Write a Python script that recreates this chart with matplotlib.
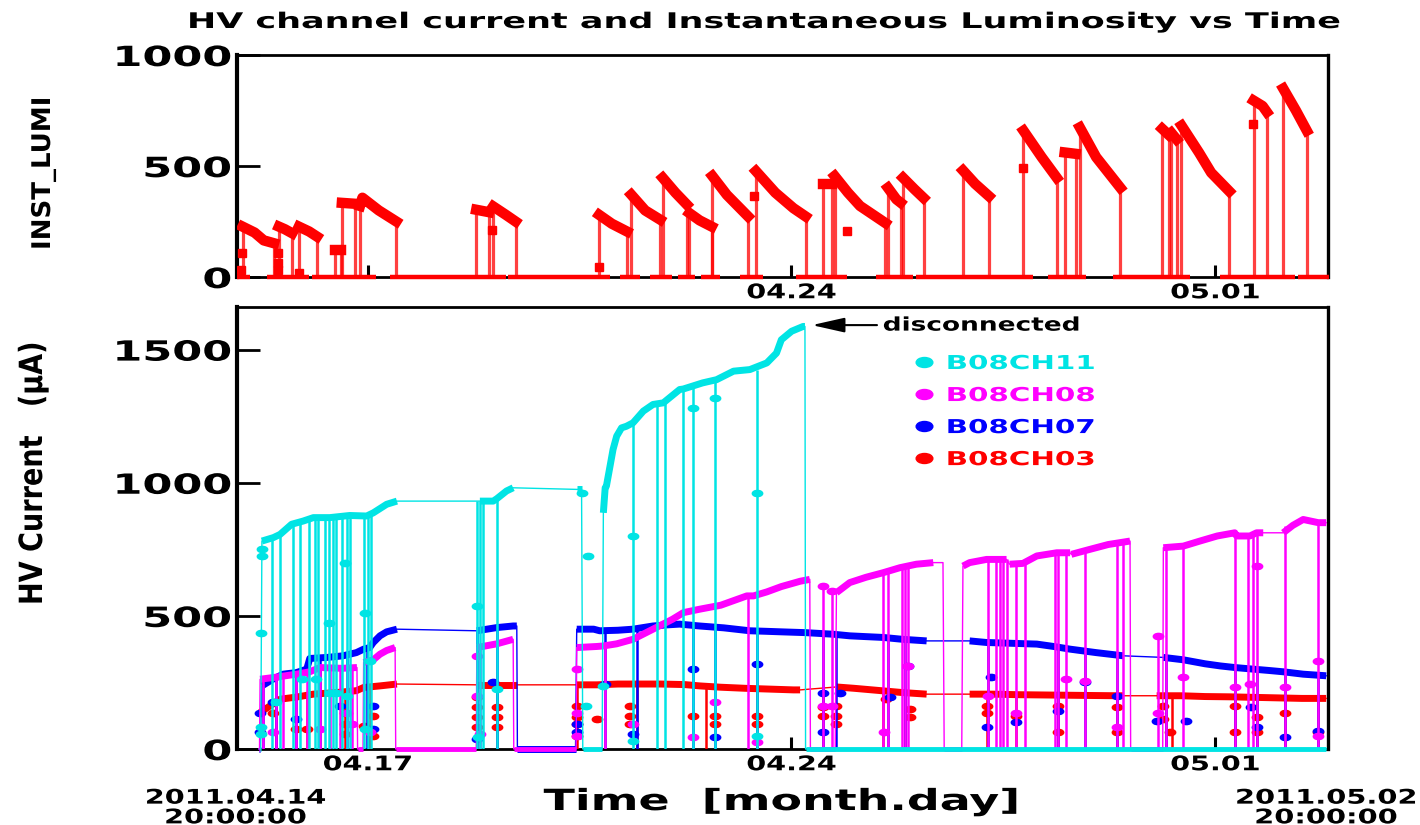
import numpy as np
import matplotlib
matplotlib.use("Agg")
import matplotlib.pyplot as plt
from matplotlib import patheffects
from matplotlib.path import Path
from matplotlib.transforms import Affine2D
from matplotlib.lines import Line2D

# ----------------------------------------------------------------- data
# time axis: days since 2011-04-14 20:00:00
T_END = 18.03
tick_days = [2.1667, 9.1667, 16.1667]
tick_labels_bottom = ["04.17", "04.24", "05.01"]
tick_labels_top = ["", "04.24", "05.01"]
lumi_yticks = [0, 500, 1000]
hv_yticks = [0, 500, 1000, 1500]
start_label = "2011.04.14\n20:00:00"
end_label = "2011.05.02\n20:00:00"
title = "HV channel current and Instantaneous Luminosity vs Time"
channel_names = ["B08CH11", "B08CH08", "B08CH07", "B08CH03"]

# ---- instantaneous luminosity: one list per beam fill (decay curve)
lumi_fill_t = [
    [0.10, 0.30, 0.45, 0.62], [0.70, 0.80, 0.92], [1.03, 1.20, 1.33],
    [1.63, 1.72], [1.74, 1.95], [2.04, 2.08, 2.35, 2.64], [3.96, 4.17],
    [4.24, 4.45, 4.61], [5.99, 6.20, 6.45], [6.52, 6.75, 7.00],
    [7.04, 7.25, 7.44], [7.48, 7.65, 7.85], [7.86, 8.10, 8.45],
    [8.58, 8.90, 9.20, 9.40], [9.69, 9.84], [9.88, 10.10, 10.30, 10.72],
    [10.76, 10.90, 10.97], [11.01, 11.20, 11.35], [12.00, 12.20, 12.43],
    [13.00, 13.30, 13.55], [13.68, 13.86], [13.93, 14.20, 14.60],
    [15.29, 15.40], [15.44, 15.53], [15.61, 15.90, 16.10, 16.40],
    [16.80, 16.95, 17.02], [17.29, 17.50, 17.68],
]
lumi_fill_v = [
    [227, 200, 165, 152], [227, 215, 197], [227, 205, 182],
    [121, 121], [334, 330], [320, 357, 300, 250], [303, 292],
    [318, 280, 250], [280, 240, 205], [371, 300, 258],
    [447, 380, 326], [288, 255, 227], [455, 370, 273],
    [477, 380, 310, 273], [421, 421], [455, 380, 320, 243],
    [402, 350, 335], [447, 395, 356], [480, 420, 364],
    [659, 540, 447], [561, 555], [674, 540, 402],
    [668, 640], [650, 620], [682, 560, 470, 386],
    [795, 770, 743], [849, 750, 659],
]
lumi_zero_start = [0.00, 0.50, 1.24, 2.53, 4.49, 6.33, 6.83, 7.30, 7.68, 8.31,
                   9.25, 10.57, 11.23, 13.41, 14.48, 16.24, 17.54]
lumi_zero_end = [0.22, 1.19, 2.31, 4.46, 6.17, 6.66, 7.19, 7.57, 7.99, 8.70,
                 10.08, 11.18, 13.16, 14.04, 15.75, 17.48, 18.05]
lumi_ramp_t = [0.08, 0.09, 0.69, 0.69, 0.69, 1.04, 4.22, 5.98, 8.55, 10.08, 12.99, 16.79]
lumi_ramp_v = [30, 107, 107, 62, 30, 20, 212, 45, 364, 205, 493, 690]

# ---- B08CH11 (cyan)
ch11_runs_t = [
    [0.39, 0.40],
    [0.42, 0.61, 0.72, 0.91, 1.10, 1.27, 1.54, 1.87, 2.15, 2.26, 2.48, 2.65],
    [4.02, 4.24, 4.30, 4.46, 4.57],
    [5.62, 5.70],
    [5.72, 6.04],
    [6.06, 6.09, 6.11, 6.17, 6.22, 6.28, 6.36, 6.44, 6.55, 6.72, 6.88, 7.05, 7.32, 7.38,
     7.52, 7.70, 7.93, 8.21, 8.48, 8.76, 8.92, 9.00, 9.17, 9.36, 9.39],
    [9.40, 18.00],
]
ch11_runs_v = [
    [0, 0],
    [781, 794, 806, 844, 856, 869, 869, 877, 875, 887, 919, 931],
    [931, 931, 940, 969, 981],
    [975, 975],
    [0, 0],
    [887, 981, 987, 1062, 1125, 1175, 1206, 1212, 1225, 1269, 1294, 1300, 1350, 1352,
     1362, 1375, 1387, 1419, 1425, 1450, 1487, 1537, 1569, 1587, 1587],
    [0, 0],
]
ch11_trip_t = [0.58, 0.72, 0.94, 1.05, 1.19, 1.30, 1.35, 1.46, 1.52, 1.60, 1.65, 1.74, 1.82,
               1.87, 2.10, 2.18, 2.23, 3.97, 4.02, 4.08, 4.30, 6.55, 6.94, 7.08, 7.38, 7.54,
               7.90, 8.59]
ch11_trip_v = [794, 806, 846, 850, 862, 869, 869, 869, 869, 869, 870, 875, 877,
               877, 875, 876, 882, 931, 931, 931, 940, 1225, 1294, 1302, 1352, 1362,
               1387, 1425]
ch11_mid_t = [0.40, 0.40, 0.41, 0.42, 0.42, 0.66, 1.08, 1.32, 1.52, 1.55, 1.65, 1.79, 1.82,
              2.12, 2.12, 2.20, 3.97, 3.99, 4.30, 5.70, 5.81, 5.78, 6.06, 6.55, 6.55, 7.54,
              7.90, 8.59, 8.59]
ch11_mid_v = [56, 81, 437, 725, 750, 175, 262, 262, 475, 212, 212, 700, 200,
              512, 75, 331, 537, 44, 225, 962, 725, 162, 237, 800, 31, 1281,
              1319, 962, 50]

# ---- B08CH08 (magenta)
ch08_runs_t = [
    [0.37, 0.38],
    [0.39, 0.66, 0.99, 1.21, 1.38, 1.74, 1.99],
    [2.00, 2.09],
    [2.10, 2.26, 2.37, 2.48, 2.62],
    [2.63, 3.96],
    [3.97, 4.30, 4.57],
    [4.58, 5.61],
    [5.62, 5.95, 6.06, 6.28, 6.55, 6.88, 7.20, 7.38, 7.65, 8.00, 8.43, 8.54, 8.76, 9.00,
     9.31, 9.47],
    [9.48, 9.89],
    [9.91, 10.13, 10.40, 10.68, 10.96, 11.23, 11.51],
    [11.67],
    [11.69, 11.98],
    [12.00, 12.11, 12.39, 12.72],
    [12.77, 12.99, 13.22, 13.55, 13.77],
    [13.79, 14.10, 14.40, 14.76],
    [14.77, 15.30],
    [15.31, 15.64, 15.90, 16.20, 16.49, 16.52, 16.74, 16.85, 16.96],
    [17.29, 17.45, 17.62, 17.87, 18.00],
]
ch08_runs_v = [
    [0, 0],
    [262, 270, 281, 290, 306, 303, 306],
    [0, 0],
    [325, 335, 356, 370, 381],
    [0, 0],
    [381, 395, 412],
    [0, 0],
    [381, 385, 387, 395, 412, 450, 487, 512, 525, 540, 575, 575, 590, 610, 630, 637],
    [0, 0],
    [587, 625, 645, 662, 681, 694, 700],
    [700],
    [0, 0],
    [687, 700, 712, 712],
    [694, 697, 725, 737, 737],
    [731, 750, 768, 781],
    [0, 0],
    [756, 762, 780, 800, 812, 800, 800, 812, 812],
    [812, 840, 862, 850, 850],
]
ch08_trip_t = [0.44, 0.66, 0.77, 0.99, 1.16, 1.38, 1.54, 1.71, 1.82, 1.90, 4.02, 6.09, 8.45,
               9.69, 9.83, 10.68, 10.77, 10.99, 11.04, 11.10, 12.42, 12.55, 12.61, 12.66,
               12.72, 12.88, 13.02, 13.52, 13.57, 13.71, 14.01, 14.54, 14.65, 15.22, 15.36,
               15.64, 16.49, 16.71, 16.79, 16.85, 17.32, 17.87]
ch08_trip_v = [262, 270, 275, 281, 287, 300, 303, 303, 306, 306, 381, 387, 575,
               612, 594, 662, 665, 681, 681, 687, 712, 712, 712, 712,
               712, 694, 700, 737, 737, 737, 740, 775, 778, 425, 756,
               762, 812, 800, 800, 812, 837, 850]
ch08_mid_t = [0.60, 1.38, 1.82, 1.90, 2.20, 3.97, 3.97, 4.02, 5.62, 5.62, 5.62, 6.55, 7.54,
              7.90, 8.59, 9.69, 9.83, 10.70, 11.10, 12.42, 12.88, 13.71, 14.01, 14.54,
              15.22, 15.64, 16.49, 16.74, 16.85, 17.32, 17.87, 17.87, 15.22, 9.69, 9.83]
ch08_mid_v = [62, 75, 137, 94, 62, 350, 200, 56, 300, 137, 50, 94, 44,
              175, 25, 162, 162, 62, 312, 200, 137, 262, 256, 81,
              137, 269, 231, 244, 687, 231, 331, 50, 425, 612, 594]

# ---- B08CH07 (blue)
ch07_runs_t = [
    [0.37, 0.39],
    [0.42, 0.60, 0.77, 0.99, 1.16, 1.21, 1.50, 1.76, 1.98, 2.10, 2.20, 2.26, 2.37, 2.48, 2.65],
    [3.97, 4.30, 4.57, 4.63],
    [4.64, 5.60],
    [5.62, 5.90, 6.00, 6.30, 6.55, 6.88, 7.10, 7.32, 7.65, 8.05, 8.48, 8.75, 9.00, 9.40,
     9.86, 10.13, 10.40, 10.68, 11.00, 11.40],
    [12.11, 12.39, 12.80, 13.22, 13.50, 13.77, 14.20, 14.65],
    [15.31, 15.64, 16.00, 16.25, 16.49, 16.79, 17.05, 17.29, 17.62, 18.00],
]
ch07_runs_v = [
    [0, 0],
    [237, 262, 281, 287, 300, 340, 344, 350, 362, 375, 381, 400, 425, 440, 450],
    [444, 456, 462, 462],
    [0, 0],
    [450, 450, 444, 446, 450, 462, 466, 469, 462, 455, 444, 442, 440, 437,
     431, 425, 422, 419, 412, 406],
    [406, 400, 397, 394, 385, 375, 362, 350],
    [344, 335, 320, 312, 306, 300, 295, 290, 281, 275],
]
ch07_trip_t = [0.44, 0.66, 0.99, 1.38, 1.82, 2.15, 3.97, 4.30, 6.09, 6.61, 7.54, 7.90, 8.59,
               9.69, 9.91, 10.77, 11.04, 12.42, 13.57, 14.01, 14.54, 15.36, 16.49, 16.85,
               17.32, 17.87]
ch07_trip_v = [240, 262, 287, 344, 350, 378, 444, 456, 444, 450, 466, 460, 444,
               434, 431, 419, 412, 400, 390, 372, 352, 342, 306, 300,
               290, 280]
ch07_mid_t = [0.39, 0.39, 0.60, 0.99, 1.71, 2.26, 2.26, 3.97, 4.24, 5.62, 5.62, 6.09, 6.55,
              7.54, 7.90, 8.59, 9.69, 9.69, 9.97, 10.79, 11.10, 12.39, 12.47, 12.88, 13.57,
              14.01, 14.54, 15.20, 15.69, 16.76, 16.85, 17.32, 17.87]
ch07_mid_v = [62, 137, 175, 112, 162, 162, 75, 37, 250, 94, 62, 244, 56,
              300, 44, 319, 212, 62, 212, 194, 312, 81, 269, 100, 144,
              250, 200, 106, 106, 156, 81, 44, 69]

# ---- B08CH03 (red)
ch03_runs_t = [
    [0.39, 0.72, 0.99, 1.27, 1.65, 1.98, 2.10, 2.37, 2.65],
    [3.97, 4.30, 4.63],
    [5.62, 5.95, 6.30, 6.70, 7.00, 7.40, 7.65, 8.00, 8.40, 8.80, 9.20, 9.31],
    [9.91, 10.20, 10.60, 11.00, 11.40],
    [12.11, 12.50, 12.90, 13.30, 13.70, 14.10, 14.54, 14.65],
    [15.20, 15.60, 16.00, 16.40, 16.80, 17.20, 17.60, 18.00],
]
ch03_runs_v = [
    [137, 187, 195, 206, 212, 219, 231, 237, 244],
    [241, 241, 241],
    [241, 241, 244, 244, 244, 242, 237, 232, 228, 225, 222, 222],
    [233, 228, 220, 212, 206],
    [206, 206, 204, 203, 202, 201, 200, 200],
    [200, 200, 197, 196, 194, 192, 190, 190],
]
ch03_trip_t = [0.66, 1.16, 1.80, 2.20, 3.97, 4.30, 5.62, 6.61, 7.76, 8.59, 9.69, 10.68, 11.04,
               12.39, 12.88, 13.57, 14.54, 15.36, 15.45, 16.49, 16.85, 17.32, 17.87]
ch03_trip_v = [190, 200, 215, 231, 241, 241, 241, 244, 237, 228, 225, 220, 212,
               206, 204, 203, 200, 200, 200, 196, 194, 192, 190]
ch03_mid_t = [0.60, 0.99, 1.16, 1.79, 1.79, 1.79, 2.10, 2.26, 2.26, 3.97, 3.97, 3.97, 3.97,
              4.30, 4.30, 4.30, 5.62, 5.62, 5.62, 5.62, 5.95, 6.50, 6.50, 6.50, 7.54, 7.90,
              7.90, 8.59, 8.59, 9.69, 9.69, 9.91, 9.91, 9.91, 10.73, 11.13, 11.13, 12.39,
              12.39, 12.88, 13.57, 13.57, 14.54, 14.54, 15.31, 15.31, 15.42, 16.49, 16.49,
              16.85, 16.85, 17.32, 17.87]
ch03_mid_v = [137, 75, 75, 137, 94, 56, 87, 125, 50, 194, 156, 119, 81,
              156, 119, 81, 162, 119, 94, 50, 112, 162, 125, 94, 125, 125,
              94, 125, 94, 156, 125, 162, 125, 94, 187, 150, 119, 162,
              137, 125, 162, 62, 156, 62, 162, 112, 62, 162, 62,
              119, 62, 137, 62]

# ----------------------------------------------------------------- style
C_CYAN, C_MAG, C_BLUE, C_RED = "#00e4e4", "#ff00ff", "#0000ff", "#ff0000"
ELLIPSE = Path.unit_circle().transformed(Affine2D().scale(1.0, 0.6))


class HStretch(patheffects.AbstractPathEffect):
    """Stretch glyphs along the text direction (text stays real text)."""

    def __init__(self, sx, anchor="center"):
        super().__init__()
        self.sx = sx
        self.anchor = anchor

    def draw_path(self, renderer, gc, tpath, affine, rgbFace=None):
        if len(tpath.vertices) == 0:
            return
        ext = tpath.get_extents()
        if self.anchor == "left":
            cx = ext.x0
        elif self.anchor == "right":
            cx = ext.x1
        else:
            cx = 0.5 * (ext.x0 + ext.x1)
        pre = Affine2D().translate(-cx, 0).scale(self.sx, 1.0).translate(cx, 0)
        renderer.draw_path(gc, tpath, pre + affine, rgbFace)


fig = plt.figure(figsize=(14.2, 8.25), dpi=100)
FW, FH = 1420.0, 825.0


def fx(px):
    return px / FW


def fy(py):
    return 1.0 - py / FH


def fit_text(t, target_px, anchor="center", along="x"):
    r = fig.canvas.get_renderer()
    bb = t.get_window_extent(r)
    length = bb.width if along == "x" else bb.height
    t.set_path_effects([HStretch(target_px / length, anchor)])


L = fx(236.5)
W = 1091.5 / FW
ax1 = fig.add_axes([L, fy(277), W, 222 / FH])
ax2 = fig.add_axes([L, fy(749), W, 442 / FH])

for ax in (ax1, ax2):
    ax.set_xlim(0, T_END)
    ax.set_xticks(tick_days)
    ax.tick_params(axis="x", direction="in", length=8.6, width=2.2, pad=4.5,
                   labelsize=14.5)
    ax.tick_params(axis="y", direction="in", length=16.5, width=2.0, pad=3.5,
                   labelsize=20)
    ax.spines["left"].set_linewidth(3.0)
    ax.spines["bottom"].set_linewidth(2.0)
    ax.spines["top"].set_linewidth(2.0)
    ax.spines["right"].set_linewidth(2.4)

ax1.set_ylim(0, 1000)
ax1.set_yticks(lumi_yticks)
ax1.set_yticklabels([str(v) for v in lumi_yticks])
ax1.set_xticklabels(tick_labels_top)
ax2.set_ylim(0, 1660)
ax2.set_yticks(hv_yticks)
ax2.set_yticklabels([str(v) for v in hv_yticks])
ax2.set_xticklabels(tick_labels_bottom)

for ax in (ax1, ax2):
    for lab in ax.get_yticklabels():
        lab.set_fontweight("bold")
        lab.set_path_effects([HStretch(1.55, "right")])
    for lab in ax.get_xticklabels():
        lab.set_fontweight("bold")
        lab.set_path_effects([HStretch(1.42, "center")])

# ---------------------------------------------------------- luminosity panel
for s, e in zip(lumi_zero_start, lumi_zero_end):
    ax1.plot([s, e], [0, 0], color=C_RED, lw=3.2, solid_capstyle="butt",
             zorder=3, clip_on=False)
for t, v in zip(lumi_fill_t, lumi_fill_v):
    ax1.vlines([t[0], t[-1]], 0, [v[0], v[-1]], color=C_RED, lw=2.3, alpha=0.75,
               zorder=3)
for t, v in zip(lumi_fill_t, lumi_fill_v):
    ax1.plot(t, v, color=C_RED, lw=7.5, solid_capstyle="projecting",
             solid_joinstyle="round", zorder=4)
ax1.plot(lumi_ramp_t, lumi_ramp_v, ls="none", marker="s", ms=5.5, color=C_RED,
         zorder=4)


# ---------------------------------------------------------- HV current panel
def draw_channel(ax, runs_t, runs_v, trip_t, trip_v, mid_t, mid_v, color, zero_lw=5.0):
    all_t = np.concatenate([np.asarray(t, float) for t in runs_t])
    all_v = np.concatenate([np.asarray(v, float) for v in runs_v])
    ax.plot(all_t, all_v, color=color, lw=1.0, zorder=3, clip_on=False)
    for t, v in zip(runs_t, runs_v):
        if len(t) > 1:
            lw = zero_lw if max(v) == 0 else 5.0
            ax.plot(t, v, color=color, lw=lw, solid_capstyle="butt",
                    solid_joinstyle="round", zorder=3, clip_on=False)
    ax.vlines(trip_t, 0, trip_v, color=color, lw=1.8, zorder=3)
    ax.plot(mid_t, mid_v, ls="none", marker=ELLIPSE, ms=7.5, color=color, zorder=3,
            clip_on=False)


draw_channel(ax2, ch03_runs_t, ch03_runs_v, ch03_trip_t, ch03_trip_v,
             ch03_mid_t, ch03_mid_v, C_RED)
draw_channel(ax2, ch07_runs_t, ch07_runs_v, ch07_trip_t, ch07_trip_v,
             ch07_mid_t, ch07_mid_v, C_BLUE)
draw_channel(ax2, ch08_runs_t, ch08_runs_v, ch08_trip_t, ch08_trip_v,
             ch08_mid_t, ch08_mid_v, C_MAG, zero_lw=3.5)
draw_channel(ax2, ch11_runs_t, ch11_runs_v, ch11_trip_t, ch11_trip_v,
             ch11_mid_t, ch11_mid_v, C_CYAN, zero_lw=3.5)

# legend
handles = [Line2D([], [], ls="none", marker=ELLIPSE, ms=12, color=c)
           for c in (C_CYAN, C_MAG, C_BLUE, C_RED)]
leg = ax2.legend(handles, channel_names, loc="upper left",
                 bbox_to_anchor=((915 - 236.5) / 1091.5, (749 - 354) / 442),
                 frameon=False, prop={"weight": "bold", "size": 13.8},
                 labelcolor="linecolor", handlelength=0.9, handletextpad=0.75,
                 labelspacing=0.68, borderpad=0, borderaxespad=0)
for txt in leg.get_texts():
    txt.set_path_effects([HStretch(1.53, "left")])

# "disconnected" annotation
ax2.annotate("", xy=(9.505, 1592), xytext=(10.58, 1592),
             arrowprops=dict(arrowstyle="-|>,head_length=2.0,head_width=0.45",
                             color="black", lw=1.5, shrinkA=0, shrinkB=0),
             zorder=5)
t_dis = ax2.text(10.68, 1592, "disconnected", ha="left", va="center",
                 fontsize=13.5, fontweight="bold", zorder=5)
fit_text(t_dis, 198, "left")

# ---------------------------------------------------------- figure texts
t_title = fig.text(fx(763), fy(28), title, ha="center", va="baseline",
                   fontsize=15.5, fontweight="bold")
fit_text(t_title, 1150)

t_lumi = fig.text(fx(50), fy(173), "INST_LUMI", rotation=90, rotation_mode="anchor",
                  ha="center", va="baseline", fontsize=18.5, fontweight="bold")
fit_text(t_lumi, 154, along="y")

t_hv = fig.text(fx(42), fy(473), "HV Current   (\u03bcA)", rotation=90,
                rotation_mode="anchor", ha="center", va="baseline", fontsize=23,
                fontweight="bold")
fit_text(t_hv, 264, along="y")

t_x = fig.text(fx(781), fy(810), "Time  [month.day]", ha="center", va="baseline",
               fontsize=21, fontweight="bold")
fit_text(t_x, 476)

t_s = fig.text(fx(235.5), fy(808), start_label, ha="center", va="center",
               fontsize=14.5, fontweight="bold", linespacing=1.05)
fit_text(t_s, 181)
t_e = fig.text(fx(1326), fy(808), end_label, ha="center", va="center",
               fontsize=14.5, fontweight="bold", linespacing=1.05)
fit_text(t_e, 182)

fig.savefig("out.png", dpi=100)
